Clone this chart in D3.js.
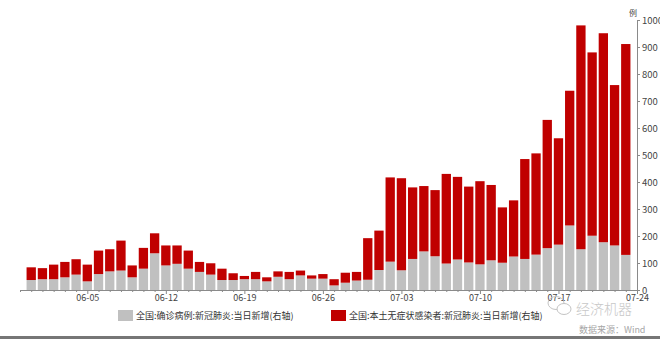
<!DOCTYPE html>
<html>
<head>
<meta charset="utf-8">
<script src="https://cdn.jsdelivr.net/npm/d3@7/dist/d3.min.js"></script>
<style>
  html, body { margin: 0; padding: 0; background: #fff; }
  svg { display: block; font-family: "Noto Sans CJK SC", "Noto Sans", sans-serif; }
</style>
</head>
<body>
<svg id="chart" width="660" height="339"></svg>
<script>
// Daily dates (MM-DD), 2022
const dates = [
  "05-31",
  "06-01","06-02","06-03","06-04","06-05","06-06","06-07","06-08","06-09","06-10",
  "06-11","06-12","06-13","06-14","06-15","06-16","06-17","06-18","06-19","06-20",
  "06-21","06-22","06-23","06-24","06-25","06-26","06-27","06-28","06-29","06-30",
  "07-01","07-02","07-03","07-04","07-05","07-06","07-07","07-08","07-09","07-10",
  "07-11","07-12","07-13","07-14","07-15","07-16","07-17","07-18","07-19","07-20",
  "07-21","07-22","07-23"
];
// 全国:确诊病例:新冠肺炎:当日新增
const confirmed = [
  37, 40, 40, 47, 57, 32, 59, 69, 72, 47,
  79, 136, 91, 97, 79, 67, 57, 37, 37, 40,
  40, 32, 49, 40, 54, 42, 42, 17, 27, 35,
  38, 74, 105, 73, 115, 143, 125, 98, 113, 102,
  95, 110, 101, 124, 115, 131, 155, 168, 239, 151,
  201, 177, 165, 130
];
// 全国:本土无症状感染者:新冠肺炎:当日新增
const asymptomatic = [
  47, 41, 54, 57, 57, 62, 87, 82, 111, 44,
  77, 74, 74, 68, 67, 37, 42, 42, 25, 12,
  27, 15, 20, 27, 18, 12, 17, 23, 37, 32,
  154, 146, 312, 341, 265, 242, 245, 332, 306, 281,
  308, 279, 205, 208, 370, 375, 475, 394, 499, 829,
  679, 774, 594, 781
];
const xTickLabels = ["06-05","06-12","06-19","06-26","07-03","07-10","07-17","07-24"];
const yTicks = [0,100,200,300,400,500,600,700,800,900,1000];
const seriesNames = ["全国:确诊病例:新冠肺炎:当日新增(右轴)", "全国:本土无症状感染者:新冠肺炎:当日新增(右轴)"];
const colors = ["#c0c0c0", "#c00000"];

const parse = d3.timeParse("%Y-%m-%d");
const toDate = s => parse("2022-" + s);

const svg = d3.select("#chart");

const x = d3.scaleTime()
  .domain([toDate("05-30"), toDate("07-24")])
  .range([20, 637]);
const y = d3.scaleLinear().domain([0, 1000]).range([290, 20]);
const step = x(toDate("06-02")) - x(toDate("06-01"));
const barW = step * 0.83;

// stacked data
const rows = dates.map((d, i) => ({ date: toDate(d), confirmed: confirmed[i], asymptomatic: asymptomatic[i] }));
const stack = d3.stack().keys(["confirmed", "asymptomatic"])(rows);

svg.append("g").selectAll("g")
  .data(stack)
  .join("g")
  .attr("fill", (d, i) => colors[i])
  .selectAll("rect")
  .data(d => d)
  .join("rect")
  .attr("x", d => x(d.data.date) - barW / 2)
  .attr("width", barW)
  .attr("y", d => y(d[1]))
  .attr("height", d => y(d[0]) - y(d[1]));

// bottom axis with a tick at every day; labels weekly
const allDays = d3.timeDay.range(toDate("05-30"), d3.timeDay.offset(toDate("07-24"), 1));
const fmt = d3.timeFormat("%m-%d");
const xAxis = d3.axisBottom(x)
  .tickValues(allDays)
  .tickSize(2)
  .tickFormat(d => xTickLabels.includes(fmt(d)) ? fmt(d) : "");
const gx = svg.append("g").attr("transform", "translate(0,290)").call(xAxis);
gx.select(".domain").attr("stroke", "#8a8a8a");
gx.selectAll(".tick line").attr("stroke", "#8a8a8a")
  .attr("y2", d => xTickLabels.includes(fmt(d)) ? 4 : 2);
gx.selectAll(".tick text")
  .attr("y", 5)
  .attr("font-size", 9)
  .attr("fill", "#444")
  .attr("font-family", "'Noto Sans CJK SC', sans-serif");

// right axis
const yAxis = d3.axisRight(y).tickValues(yTicks).tickSize(3).tickPadding(2).tickFormat(d3.format("d"));
const gy = svg.append("g").attr("transform", "translate(637,0)").call(yAxis);
gy.select(".domain").attr("stroke", "#8a8a8a");
gy.selectAll(".tick line").attr("stroke", "#8a8a8a");
gy.selectAll(".tick text")
  .attr("font-size", 9.5)
  .attr("fill", "#444")
  .attr("font-family", "'Noto Sans CJK SC', sans-serif");

// unit label
svg.append("text")
  .attr("x", 633).attr("y", 16)
  .attr("text-anchor", "middle")
  .attr("font-size", 8)
  .attr("fill", "#444")
  .text("例");

// legend
const legend = svg.append("g");
const legendPos = [118, 331];
seriesNames.forEach((name, i) => {
  const g = legend.append("g").attr("transform", `translate(${legendPos[i]},310)`);
  g.append("rect").attr("width", 15).attr("height", 11).attr("fill", colors[i]);
  g.append("text")
    .attr("x", 18).attr("y", 9)
    .attr("font-size", 9)
    .attr("fill", "#333")
    .text(name);
});

// watermark
const wm = svg.append("g").attr("fill", "none").attr("stroke", "#c4c4c4").attr("stroke-width", 1);
wm.append("ellipse").attr("cx", 556).attr("cy", 303).attr("rx", 8).attr("ry", 6.5);
wm.append("ellipse").attr("cx", 564).attr("cy", 309).attr("rx", 7).attr("ry", 5.5).attr("fill", "#fff");
svg.append("text")
  .attr("x", 576).attr("y", 314)
  .attr("font-size", 14)
  .attr("fill", "#c8c8c8")
  .attr("font-family", "'Noto Sans CJK SC', sans-serif")
  .attr("font-weight", 300)
  .text("经济机器");
svg.append("text")
  .attr("x", 579).attr("y", 333)
  .attr("font-size", 9)
  .attr("fill", "#a6a6a6")
  .text("数据来源：Wind");

// bottom frame band
svg.append("rect").attr("x", 0).attr("y", 336).attr("width", 660).attr("height", 3).attr("fill", "#767676");
</script>
</body>
</html>
